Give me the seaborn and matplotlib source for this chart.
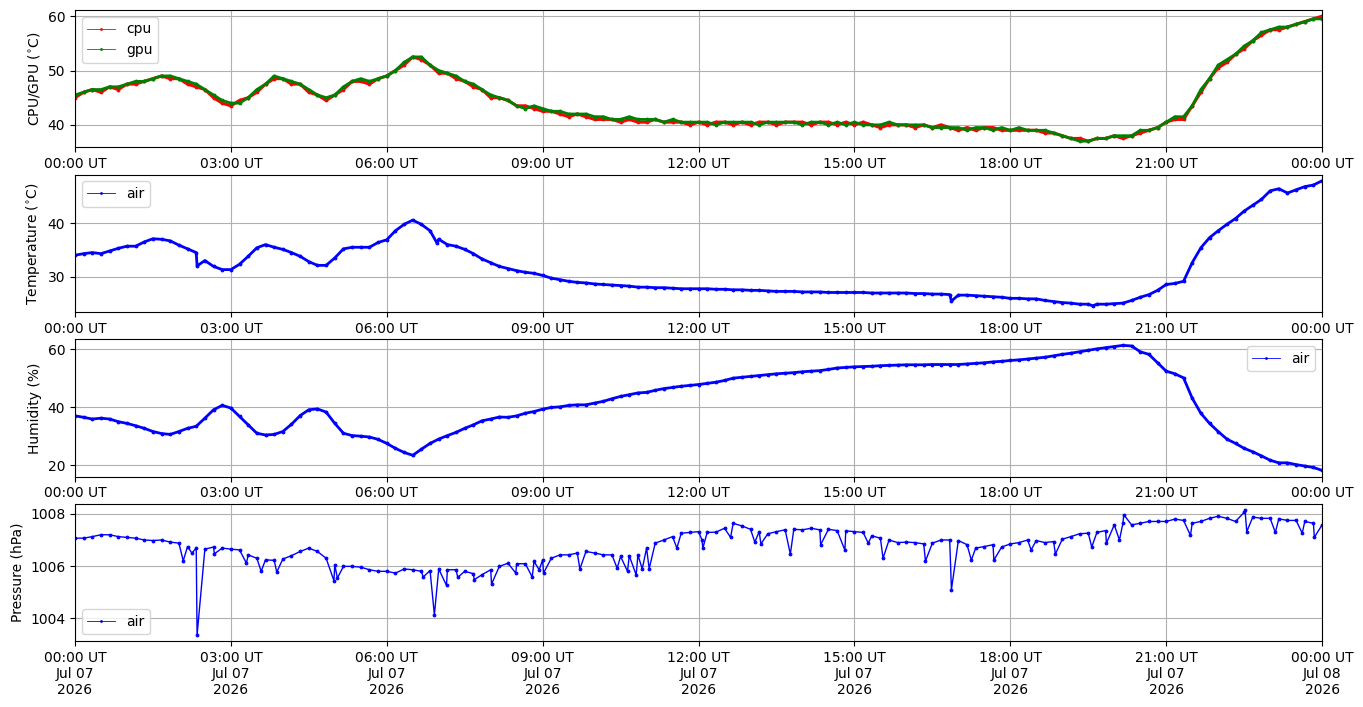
import matplotlib
matplotlib.use("Agg")
import numpy as np
import pandas as pd
import matplotlib.pyplot as plt
import matplotlib.dates as mdates
import seaborn as sns

# readings every 10 minutes, 00:00 Jul 07 to 00:00 Jul 08 2026
times = pd.date_range("2026-07-07 00:00", "2026-07-08 00:00", freq="10min")

gpu = [45.5, 46.0, 46.5, 46.5, 47.0, 47.0,
       47.5, 48.0, 48.0, 48.5, 49.0, 49.0,
       48.5, 48.0, 47.5, 46.5, 45.5, 44.5,
       44.0, 44.0, 45.0, 46.5, 47.5, 49.0,
       48.5, 48.0, 47.5, 46.5, 45.5, 45.0,
       45.5, 47.0, 48.0, 48.5, 48.0, 48.5,
       49.0, 50.0, 51.5, 52.5, 52.5, 51.0,
       50.0, 49.5, 49.0, 48.0, 47.5, 46.5,
       45.5, 45.0, 44.5, 43.5, 43.0, 43.5,
       43.0, 42.5, 42.5, 42.0, 42.0, 42.0,
       41.5, 41.5, 41.0, 41.0, 41.5, 41.0,
       41.0, 41.0, 40.5, 41.0, 40.5, 40.5,
       40.5, 40.5, 40.0, 40.5, 40.5, 40.5,
       40.5, 40.0, 40.5, 40.5, 40.5, 40.5,
       40.0, 40.5, 40.5, 40.0, 40.5, 40.0,
       40.5, 40.0, 40.0, 40.0, 40.5, 40.0,
       40.0, 40.0, 40.0, 39.5, 39.5, 39.5,
       39.5, 39.0, 39.5, 39.5, 39.0, 39.5,
       39.0, 39.5, 39.0, 39.0, 39.0, 38.5,
       38.0, 37.5, 37.0, 37.0, 37.5, 37.5,
       38.0, 38.0, 38.0, 39.0, 39.0, 39.5,
       40.5, 41.5, 41.5, 43.5, 46.5, 48.5,
       51.0, 52.0, 53.0, 54.5, 55.5, 57.0,
       57.5, 58.0, 58.0, 58.5, 59.0, 59.5,
       59.5]

cpu = [45.0, 46.0, 46.5, 46.0, 47.0, 46.5,
       47.5, 47.5, 48.0, 48.5, 49.0, 48.5,
       48.5, 47.5, 47.0, 46.5, 45.0, 44.0,
       43.5, 44.5, 45.0, 46.0, 47.5, 48.5,
       48.5, 47.5, 47.5, 46.0, 45.5, 44.5,
       45.5, 46.5, 48.0, 48.0, 47.5, 48.5,
       49.0, 50.0, 51.0, 52.5, 52.0, 51.0,
       49.5, 49.5, 48.5, 48.0, 47.0, 46.5,
       45.0, 45.0, 44.5, 43.5, 43.5, 43.0,
       42.5, 42.5, 42.0, 41.5, 42.0, 41.5,
       41.0, 41.0, 41.0, 40.5, 41.0, 40.5,
       40.5, 41.0, 40.5, 40.5, 40.5, 40.0,
       40.5, 40.0, 40.5, 40.5, 40.0, 40.5,
       40.0, 40.5, 40.5, 40.0, 40.5, 40.5,
       40.5, 40.0, 40.5, 40.5, 40.0, 40.5,
       40.0, 40.5, 40.0, 39.5, 40.0, 40.0,
       40.0, 39.5, 40.0, 39.5, 40.0, 39.5,
       39.0, 39.5, 39.0, 39.5, 39.5, 39.0,
       39.0, 39.0, 39.0, 39.0, 38.5, 38.5,
       38.0, 37.5, 37.5, 37.0, 37.5, 37.5,
       38.0, 37.5, 38.0, 38.5, 39.0, 39.5,
       40.5, 41.0, 41.0, 43.5, 46.0, 48.5,
       50.5, 51.5, 53.0, 54.0, 55.5, 56.5,
       57.5, 57.5, 58.0, 58.5, 59.0, 59.5,
       60.0]

temp = [34.0, 34.3, 34.5, 34.3, 34.8, 35.3,
        35.7, 35.7, 36.5, 37.1, 37.0, 36.7,
        35.9, 35.2, 34.5, 33.0, 31.9, 31.3,
        31.3, 32.3, 33.8, 35.4, 36.0, 35.5,
        35.1, 34.5, 33.8, 32.8, 32.1, 32.1,
        33.5, 35.2, 35.5, 35.5, 35.5, 36.4,
        36.9, 38.6, 39.8, 40.6, 39.8, 38.6,
        37.0, 36.0, 35.7, 35.1, 34.3, 33.3,
        32.6, 31.9, 31.5, 31.1, 30.8, 30.6,
        30.2, 29.7, 29.4, 29.1, 28.9, 28.8,
        28.6, 28.5, 28.4, 28.3, 28.2, 28.0,
        28.0, 27.9, 27.9, 27.8, 27.7, 27.7,
        27.7, 27.7, 27.6, 27.6, 27.5, 27.5,
        27.4, 27.4, 27.3, 27.2, 27.2, 27.2,
        27.1, 27.1, 27.1, 27.0, 27.0, 27.0,
        27.0, 27.0, 26.9, 26.9, 26.9, 26.9,
        26.9, 26.8, 26.8, 26.7, 26.7, 26.6,
        26.5, 26.5, 26.4, 26.3, 26.2, 26.1,
        25.9, 25.9, 25.8, 25.8, 25.5, 25.3,
        25.1, 25.0, 24.8, 24.8, 24.8, 24.8,
        24.9, 25.0, 25.5, 26.1, 26.6, 27.4,
        28.5, 28.7, 29.1, 32.6, 35.4, 37.3,
        38.6, 39.8, 40.9, 42.3, 43.4, 44.5,
        46.1, 46.5, 45.7, 46.3, 46.9, 47.2,
        48.0]

humidity = [37.0, 36.5, 35.9, 36.2, 35.9, 35.0,
            34.4, 33.6, 32.7, 31.6, 30.9, 30.6,
            31.6, 32.7, 33.4, 36.2, 39.1, 40.6,
            39.7, 36.8, 33.9, 31.0, 30.4, 30.6,
            31.6, 34.1, 37.1, 39.1, 39.4, 38.3,
            34.4, 31.0, 30.2, 30.0, 29.7, 28.9,
            27.5, 25.8, 24.4, 23.4, 25.5, 27.5,
            29.0, 30.2, 31.3, 32.7, 33.9, 35.3,
            35.9, 36.6, 36.5, 37.0, 37.9, 38.5,
            39.3, 39.9, 40.1, 40.6, 40.8, 40.8,
            41.4, 42.0, 42.9, 43.7, 44.3, 44.9,
            45.1, 45.8, 46.4, 46.8, 47.2, 47.5,
            47.8, 48.2, 48.6, 49.2, 50.0, 50.3,
            50.6, 50.9, 51.2, 51.5, 51.7, 51.9,
            52.2, 52.4, 52.6, 53.0, 53.5, 53.7,
            53.9, 54.0, 54.1, 54.3, 54.4, 54.5,
            54.6, 54.6, 54.6, 54.7, 54.7, 54.7,
            54.7, 54.9, 55.1, 55.3, 55.6, 55.8,
            56.1, 56.3, 56.6, 56.9, 57.2, 57.7,
            58.2, 58.6, 59.1, 59.6, 60.1, 60.5,
            60.9, 61.3, 61.1, 59.1, 58.2, 55.3,
            52.4, 51.5, 50.1, 43.1, 37.9, 34.4,
            31.6, 29.0, 27.5, 25.8, 24.6, 23.2,
            21.7, 20.8, 20.8, 20.2, 19.7, 19.2,
            18.2]

pressure = [1007.07, 1007.07, 1007.13, 1007.20, 1007.20, 1007.13,
            1007.10, 1007.07, 1007.00, 1006.98, 1007.00, 1006.92,
            1006.88, 1006.75, 1006.69, 1006.65, 1006.73, 1006.69,
            1006.65, 1006.62, 1006.43, 1006.30, 1006.24, 1006.22,
            1006.27, 1006.40, 1006.56, 1006.69, 1006.56, 1006.30,
            1006.05, 1005.99, 1005.99, 1005.96, 1005.86, 1005.80,
            1005.80, 1005.73, 1005.89, 1005.86, 1005.80, 1005.83,
            1005.89, 1005.86, 1005.86, 1005.80, 1005.71, 1005.67,
            1005.86, 1005.99, 1006.11, 1006.09, 1006.09, 1006.18,
            1006.24, 1006.30, 1006.43, 1006.43, 1006.50, 1006.56,
            1006.50, 1006.43, 1006.43, 1006.37, 1006.40, 1006.43,
            1006.69, 1006.88, 1007.00, 1007.13, 1007.26, 1007.29,
            1007.32, 1007.29, 1007.30, 1007.45, 1007.64, 1007.54,
            1007.41, 1007.32, 1007.24, 1007.32, 1007.39, 1007.41,
            1007.39, 1007.45, 1007.39, 1007.41, 1007.36, 1007.35,
            1007.32, 1007.29, 1007.16, 1007.07, 1007.00, 1006.90,
            1006.92, 1006.90, 1006.85, 1006.88, 1007.00, 1007.00,
            1006.98, 1006.82, 1006.69, 1006.75, 1006.82, 1006.73,
            1006.85, 1006.90, 1007.00, 1006.98, 1006.90, 1006.94,
            1007.03, 1007.13, 1007.24, 1007.26, 1007.29, 1007.36,
            1007.58, 1007.64, 1007.58, 1007.64, 1007.71, 1007.71,
            1007.71, 1007.80, 1007.75, 1007.64, 1007.71, 1007.83,
            1007.91, 1007.83, 1007.71, 1008.06, 1007.88, 1007.83,
            1007.83, 1007.81, 1007.75, 1007.75, 1007.71, 1007.64,
            1007.58]

# single-sample glitches between the regular readings
temp_spike_times = ["02:21", "06:58", "16:52", "19:35"]
temp_spike_vals = [32.0, 36.3, 25.4, 24.5]

p_spike_times = ["02:05", "02:15", "02:21", "02:41", "03:18", "03:35", "03:53",
                 "04:59", "05:03", "06:42", "06:55", "07:09", "07:22", "07:41",
                 "08:01", "08:29", "08:48", "08:56", "09:01", "09:43", "10:26",
                 "10:38", "10:48", "10:55", "11:03", "11:35", "12:04", "12:05",
                 "12:37", "13:05", "13:12", "13:46", "14:21", "14:49", "15:16",
                 "15:33", "16:22", "16:52", "17:15", "17:41", "18:24", "18:52",
                 "19:34", "19:51", "20:06", "20:11", "21:28", "22:31", "22:33",
                 "23:06", "23:37", "23:51"]
p_spike_vals = [1006.20, 1006.50, 1003.36, 1006.47, 1006.11, 1005.80, 1005.77,
                1005.44, 1005.54, 1005.58, 1004.13, 1005.26, 1005.57, 1005.48,
                1005.31, 1005.73, 1005.58, 1005.86, 1005.73, 1005.89, 1005.92,
                1005.80, 1005.66, 1005.89, 1005.90, 1006.69, 1007.00, 1006.69,
                1007.10, 1006.92, 1006.85, 1006.46, 1006.82, 1006.61, 1006.88,
                1006.30, 1006.19, 1005.10, 1006.23, 1006.23, 1006.62, 1006.46,
                1006.73, 1006.88, 1007.00, 1007.97, 1007.18, 1008.15, 1007.32,
                1007.29, 1007.26, 1007.10]


def with_spikes(values, spike_times, spike_vals):
    base = pd.DataFrame({"time": times, "value": values})
    extra = pd.DataFrame({"time": pd.to_datetime(["2026-07-07 " + s for s in spike_times]),
                          "value": spike_vals})
    return pd.concat([base, extra]).sort_values("time").reset_index(drop=True)


temp_df = with_spikes(temp, temp_spike_times, temp_spike_vals)
press_df = with_spikes(pressure, p_spike_times, p_spike_vals)

fig, axes = plt.subplots(4, 1, figsize=(13.63, 7.07), dpi=100)
fig.subplots_adjust(left=0.055, right=0.970, top=0.986, bottom=0.093, hspace=0.197)


# thick trace stands in for the dense per-minute dots, legend keeps a thin line
def draw(ax, x, y, color, label, lw=2.0):
    sns.lineplot(x=x, y=y, ax=ax, color=color, lw=lw, marker=".", ms=4,
                 mec=color, mfc=color, label=label, estimator=None, errorbar=None)


def thin_legend(ax, loc):
    leg = ax.legend(loc=loc)
    for line in leg.get_lines():
        line.set_linewidth(0.6)
        line.set_markersize(2.5)


draw(axes[0], times, cpu, "red", "cpu", lw=2.2)
draw(axes[0], times, gpu, "green", "gpu", lw=2.0)
axes[0].set_ylabel(r"CPU/GPU ($^{\circ}$C)")
thin_legend(axes[0], "upper left")

draw(axes[1], temp_df["time"], temp_df["value"], "blue", "air")
axes[1].set_ylabel(r"Temperature ($^{\circ}$C)")
thin_legend(axes[1], "upper left")

draw(axes[2], times, humidity, "blue", "air")
axes[2].set_ylabel("Humidity (%)")
thin_legend(axes[2], "upper right")

draw(axes[3], press_df["time"], press_df["value"], "blue", "air", lw=1.0)
axes[3].set_ylabel("Pressure (hPa)")
thin_legend(axes[3], "lower left")

for i, ax in enumerate(axes):
    ax.set_xlim(pd.Timestamp("2026-07-07 00:00"), pd.Timestamp("2026-07-08 00:00"))
    ax.xaxis.set_major_locator(mdates.HourLocator(byhour=range(0, 24, 3)))
    if i == 3:
        ax.xaxis.set_major_formatter(mdates.DateFormatter("%H:%M UT\n%b %d\n%Y"))
    else:
        ax.xaxis.set_major_formatter(mdates.DateFormatter("%H:%M UT"))
    ax.set_xlabel("")
    ax.grid(True)

fig.savefig("out.png", dpi=100)
